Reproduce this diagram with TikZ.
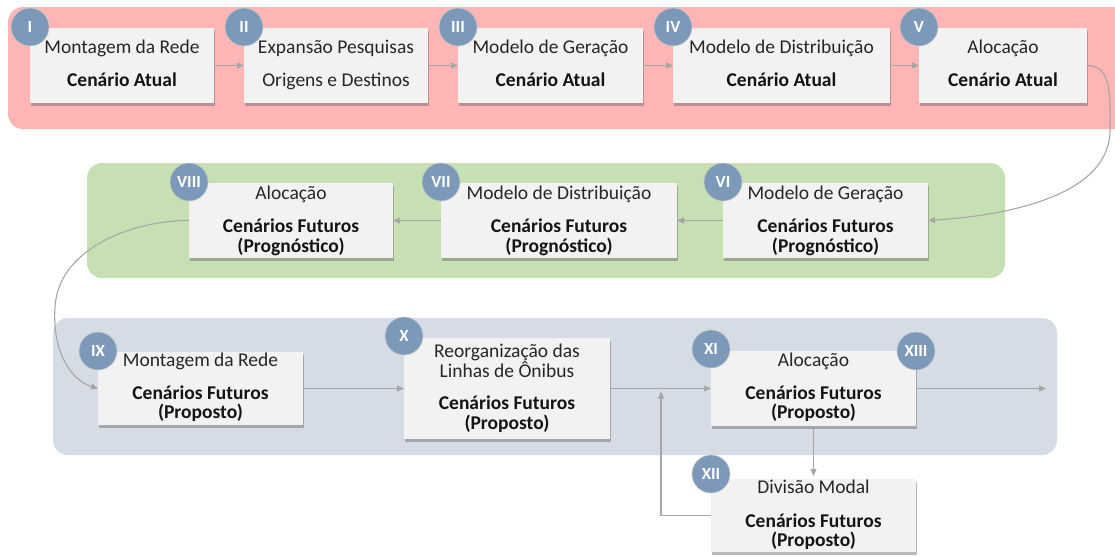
\documentclass[tikz,border=0pt]{standalone}
\usepackage{fontspec}
\setmainfont{Carlito}
\usetikzlibrary{shadows,arrows.meta}
\definecolor{redp}{RGB}{255,180,181}
\definecolor{greenp}{RGB}{198,224,180}
\definecolor{bluep}{RGB}{214,220,229}
\definecolor{boxf}{RGB}{242,242,242}
\definecolor{badgef}{RGB}{125,153,185}
\definecolor{arrc}{RGB}{166,166,166}
\definecolor{txtc}{RGB}{38,38,38}
\begin{document}
\begin{tikzpicture}[x=1pt,y=-1pt,
 stepbox/.style={fill=boxf, inner sep=0pt, outer sep=0pt, drop shadow={shadow xshift=1.2pt, shadow yshift=-2.5pt, opacity=0.45, fill=black!60}},
 badge/.style={circle, fill=badgef, draw=black!22, line width=0.6pt, minimum size=38pt, inner sep=0pt, text=white, font=\fontsize{17pt}{17pt}\selectfont\bfseries},
 ttl/.style={anchor=base, inner sep=0pt, text=txtc, font=\fontsize{19.5pt}{20pt}\selectfont},
 bld/.style={anchor=base, inner sep=0pt, text=black!92, font=\fontsize{19.5pt}{20pt}\selectfont\bfseries},
 arr/.style={draw=arrc, line width=1.1pt, -{Triangle[length=7pt,width=6pt]}},
]
\useasboundingbox (0,0) rectangle (1115,557);
% panels
\fill[redp, rounded corners=15pt] (8,7) rectangle (1127,129);
\fill[greenp, rounded corners=15pt] (87,163) rectangle (1005,278);
\fill[bluep, rounded corners=15pt] (53,318) rectangle (1057,455);

% boxes
\node[stepbox, minimum width=184pt, minimum height=75pt] (b1) at (122,65.5) {};
\node[stepbox, minimum width=184pt, minimum height=75pt] (b2) at (336,65.5) {};
\node[stepbox, minimum width=185pt, minimum height=75pt] (b3) at (550.5,65.5) {};
\node[stepbox, minimum width=217pt, minimum height=75pt] (b4) at (781.5,65.5) {};
\node[stepbox, minimum width=168pt, minimum height=75pt] (b5) at (1003,65.5) {};
\node[stepbox, minimum width=205pt, minimum height=75pt] (b6) at (825.5,220.5) {};
\node[stepbox, minimum width=236pt, minimum height=75pt] (b7) at (559,220.5) {};
\node[stepbox, minimum width=204pt, minimum height=75pt] (b8) at (291,220.5) {};
\node[stepbox, minimum width=205pt, minimum height=73pt] (b9) at (200.5,388.5) {};
\node[stepbox, minimum width=206pt, minimum height=101pt] (b10) at (507,388.5) {};
\node[stepbox, minimum width=205pt, minimum height=75pt] (b11) at (813.5,388.5) {};
\node[stepbox, minimum width=205pt, minimum height=73pt] (b12) at (813.5,515.5) {};

% texts
\node[ttl] (t1a) at (122,53) {Montagem da Rede};
\node[bld] (t1b) at (122,86) {Cenário Atual};
\node[ttl] (t2a) at (336,53) {Expansão Pesquisas};
\node[ttl] (t2b) at (336,86) {Origens e Destinos};
\node[ttl] (t3a) at (550.5,53) {Modelo de Geração};
\node[bld] (t3b) at (550.5,86) {Cenário Atual};
\node[ttl] (t4a) at (781.5,53) {Modelo de Distribuição};
\node[bld] (t4b) at (781.5,86) {Cenário Atual};
\node[ttl] (t5a) at (1003,53) {Alocação};
\node[bld] (t5b) at (1003,86) {Cenário Atual};

\node[ttl] (t6a) at (825.5,199) {Modelo de Geração};
\node[bld] (t6b) at (825.5,232) {Cenários Futuros};
\node[bld] (t6c) at (825.5,252) {(Prognóstico)};
\node[ttl] (t7a) at (559,199) {Modelo de Distribuição};
\node[bld] (t7b) at (559,232) {Cenários Futuros};
\node[bld] (t7c) at (559,252) {(Prognóstico)};
\node[ttl] (t8a) at (291,199) {Alocação};
\node[bld] (t8b) at (291,232) {Cenários Futuros};
\node[bld] (t8c) at (291,252) {(Prognóstico)};

\node[ttl] (t9a) at (200.5,366) {Montagem da Rede};
\node[bld] (t9b) at (200.5,399) {Cenários Futuros};
\node[bld] (t9c) at (200.5,418) {(Proposto)};
\node[ttl] (t10a) at (507,357) {Reorganização das};
\node[ttl] (t10b) at (507,377) {Linhas de Ônibus};
\node[bld] (t10c) at (507,409) {Cenários Futuros};
\node[bld] (t10d) at (507,429) {(Proposto)};
\node[ttl] (t11a) at (813.5,366) {Alocação};
\node[bld] (t11b) at (813.5,399) {Cenários Futuros};
\node[bld] (t11c) at (813.5,418) {(Proposto)};
\node[ttl] (t12a) at (813.5,493) {Divisão Modal};
\node[bld] (t12b) at (813.5,527) {Cenários Futuros};
\node[bld] (t12c) at (813.5,546) {(Proposto)};

% connectors
\draw[arr] (b1.east) -- (b2.west);
\draw[arr] (b2.east) -- (b3.west);
\draw[arr] (b3.east) -- (b4.west);
\draw[arr] (b4.east) -- (b5.west);
\draw[arr] (b5.east) .. controls (1112,65.5) and (1110,95) .. (1110,130) .. controls (1110,198) and (1000,216) .. (b6.east);
\draw[arr] (b6.west) -- (b7.east);
\draw[arr] (b7.west) -- (b8.east);
\draw[arr] (b8.west) .. controls (130,220.5) and (58,250) .. (55,307) .. controls (52,350) and (70,380) .. (b9.west);
\draw[arr] (b9.east) -- (b10.west);
\draw[arr] (b10.east) -- (b11.west);
\coordinate (e13) at (1046,388.5);
\draw[arr] (b11.east) -- (e13);
\draw[arr, shorten >=3pt] (b11.south) -- (b12.north);
\coordinate (j12) at (661,391.5);
\draw[arr] (b12.west) -| (j12);

% badges
\node[badge] (n1) at (30,27) {I};
\node[badge] (n2) at (244,27) {II};
\node[badge] (n3) at (458,27) {III};
\node[badge] (n4) at (673,27) {IV};
\node[badge] (n5) at (919,27) {V};
\node[badge] (n6) at (723,182) {VI};
\node[badge] (n7) at (441,182) {VII};
\node[badge] (n8) at (189,182) {VIII};
\node[badge] (n9) at (98,351) {IX};
\node[badge] (n10) at (404,336) {X};
\node[badge] (n11) at (711,349) {XI};
\node[badge] (n12) at (711,474) {XII};
\node[badge] (n13) at (916,351) {XIII};
\end{tikzpicture}
\end{document}
